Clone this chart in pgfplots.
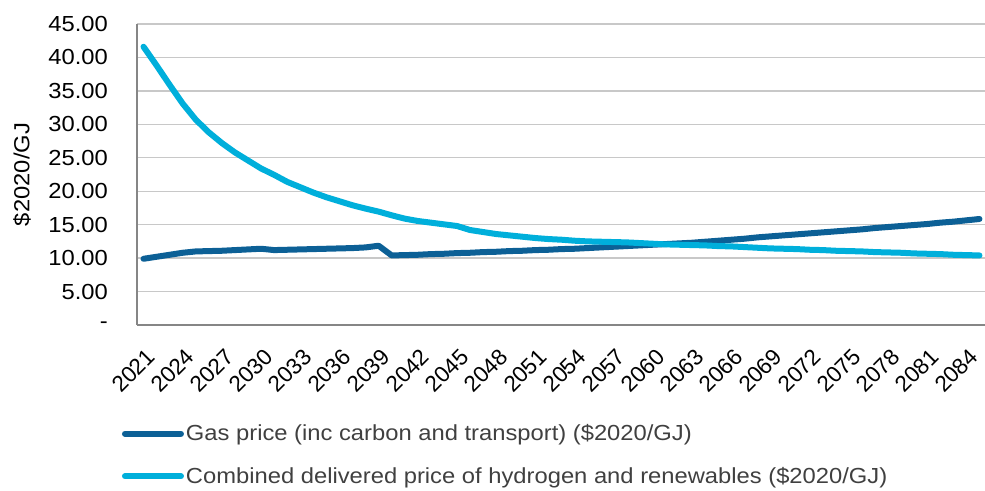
\documentclass[border=0pt]{standalone}
\usepackage{fontspec}
\setmainfont{Liberation Sans}[FakeStretch=1.09]
\newfontfamily\tickfont{Liberation Sans}
\usepackage{pgfplots}
\usepackage{pgfplotstable}
\pgfplotsset{compat=1.18}
\definecolor{gasblue}{HTML}{0C6096}
\definecolor{hydblue}{HTML}{00AFDB}
\definecolor{gridgrey}{HTML}{C8C8C8}
\definecolor{axisgrey}{HTML}{868686}
\definecolor{legtext}{HTML}{404040}

\pgfplotstableread{
year gas hyd
2021 9.9 41.6
2022 10.2 38.8
2023 10.5 35.9
2024 10.8 33.1
2025 11.0 30.7
2026 11.05 28.8
2027 11.1 27.2
2028 11.2 25.8
2029 11.3 24.6
2030 11.4 23.4
2031 11.2 22.45
2032 11.25 21.4
2033 11.3 20.6
2034 11.35 19.8
2035 11.4 19.1
2036 11.45 18.5
2037 11.5 17.9
2038 11.6 17.4
2039 11.85 16.95
2040 10.4 16.4
2041 10.45 15.9
2042 10.5 15.55
2043 10.6 15.3
2044 10.65 15.05
2045 10.75 14.8
2046 10.8 14.2
2047 10.9 13.9
2048 10.95 13.6
2049 11.05 13.4
2050 11.1 13.2
2051 11.2 13.0
2052 11.25 12.85
2053 11.35 12.75
2054 11.4 12.6
2055 11.5 12.5
2056 11.6 12.45
2057 11.7 12.4
2058 11.8 12.35
2059 11.9 12.25
2060 12.0 12.15
2061 12.1 12.05
2062 12.2 12.0
2063 12.3 11.95
2064 12.45 11.9
2065 12.6 11.8
2066 12.75 11.75
2067 12.9 11.65
2068 13.1 11.55
2069 13.25 11.45
2070 13.4 11.4
2071 13.55 11.35
2072 13.7 11.25
2073 13.85 11.2
2074 14.0 11.1
2075 14.15 11.05
2076 14.3 11.0
2077 14.5 10.9
2078 14.65 10.85
2079 14.8 10.8
2080 14.95 10.7
2081 15.1 10.65
2082 15.3 10.6
2083 15.45 10.5
2084 15.65 10.45
2085 15.85 10.4
}\datatable

\begin{document}
\begin{tikzpicture}[font=\fontsize{21.8bp}{26bp}\selectfont]
\path[use as bounding box] (-137bp,-166bp) rectangle (848bp,325bp);
\begin{axis}[
  at={(0,0)}, anchor=south west,
  scale only axis,
  width=849bp, height=301bp,
  xmin=2020.5, xmax=2085.5,
  ymin=0, ymax=45,
  xtick={2021,2024,...,2084},
  xticklabels={2021,2024,2027,2030,2033,2036,2039,2042,2045,2048,2051,2054,2057,2060,2063,2066,2069,2072,2075,2078,2081,2084},
  ytick={0,5,...,45},
  yticklabels={-\hspace{0.55em},5.00,10.00,15.00,20.00,25.00,30.00,35.00,40.00,45.00},
  major tick length=0pt,
  axis x line*=bottom, axis y line*=left,
  axis line style={axisgrey, line width=1.2bp, -},
  ymajorgrids, grid style={gridgrey, line width=1.3bp},
  yticklabel style={inner sep=0pt, xshift=-29bp},
  xticklabel style={xshift=7.7bp, yshift=-27.7bp, rotate=45, anchor=east, inner sep=0pt,
    font=\tickfont\fontsize{22.5bp}{26bp}\selectfont},
  ylabel={\$2020/GJ},
  ylabel style={at={(-0.1355,0.5)}, anchor=center, inner sep=0pt},
  legend style={at={(-0.0177,-0.325)}, anchor=north west, draw=none, fill=none,
    inner sep=0pt, outer sep=0pt, row sep=21bp, text=legtext,
    nodes={inner sep=2bp}},
  legend cell align=left,
  legend image code/.code={\draw[#1] plot coordinates {(0bp,0bp) (56bp,0bp)};},
  clip=false,
]
\addplot[gasblue, line width=6bp, line join=round, line cap=round] table[x=year, y=gas] {\datatable};
\addlegendentry{Gas price (inc carbon and transport) (\$2020/GJ)}
\addplot[hydblue, line width=6bp, line join=round, line cap=round] table[x=year, y=hyd] {\datatable};
\addlegendentry{Combined delivered price of hydrogen and renewables (\$2020/GJ)}
\end{axis}
\end{tikzpicture}
\end{document}
